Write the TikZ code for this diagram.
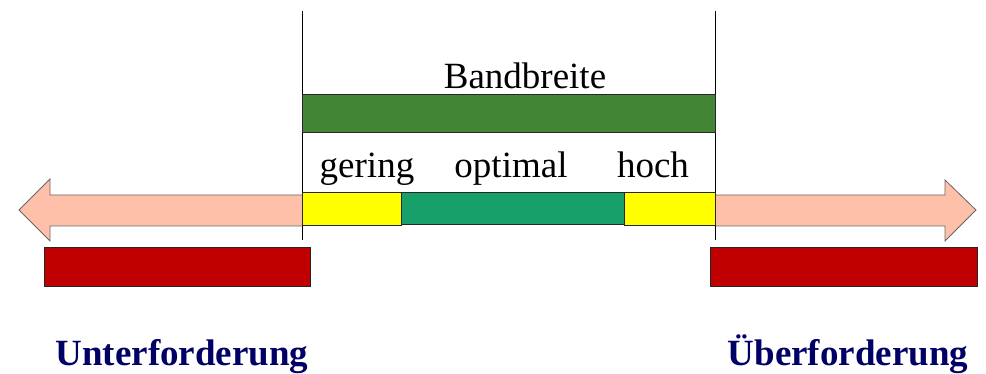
\documentclass[tikz,border=0pt]{standalone}
\usepackage{fontspec}
\setmainfont{Liberation Serif}
\begin{document}
\begin{tikzpicture}[x=1pt,y=1pt,
  lbl/.style={anchor=base,inner sep=0pt,font=\fontsize{37}{44}\selectfont},
  side/.style={anchor=base,inner sep=0pt,font=\fontsize{37}{44}\selectfont\bfseries,text=navy},
  barbox/.style={draw=black!85,line width=0.8pt,inner sep=0pt,anchor=south west},
  arrowbody/.style={fill=salmon,draw=gray!80!black,line width=0.8pt,line join=miter}]
\definecolor{navy}{HTML}{000066}
\definecolor{salmon}{HTML}{FFC0AA}
\definecolor{bandgreen}{HTML}{418535}
\definecolor{optgreen}{HTML}{17A06A}
\definecolor{lowhigh}{HTML}{FFFF00}
\definecolor{overred}{HTML}{C00000}
\useasboundingbox (0,0) rectangle (986,374);

% left arrow (Unterforderung side)
\coordinate (lA) at (302,179);
\draw[arrowbody] (302,179) -- (50,179) -- (50,195) -- (19,164) -- (50,133) -- (50,148) -- (302,148);
% right arrow (Ueberforderung side)
\draw[arrowbody] (715,179) -- (945,179) -- (945,194) -- (976,164) -- (945,133) -- (945,148) -- (715,148);

% range boundaries
\coordinate (tl) at (302,363);
\coordinate (bl) at (302,134);
\coordinate (tr) at (715,363);
\coordinate (br) at (715,134);
\draw[line width=0.9pt] (tl) -- (bl);
\draw[line width=0.9pt] (tr) -- (br);

% bandwidth bar
\node[barbox,fill=bandgreen,minimum width=413pt,minimum height=38pt] (band) at (302,241) {};
\node[lbl] (bandtxt) at (525,285) {Bandbreite};

% levels within the band
\node[barbox,fill=lowhigh,minimum width=99pt,minimum height=33pt] (low) at (302,148) {};
\node[barbox,fill=optgreen,minimum width=223pt,minimum height=32pt] (opt) at (401,149) {};
\node[barbox,fill=lowhigh,minimum width=91pt,minimum height=33pt] (high) at (624,148) {};
\node[lbl] (lowtxt) at (367,196) {gering};
\node[lbl] (opttxt) at (511,196) {optimal};
\node[lbl] (hightxt) at (653,196) {hoch};

% out-of-range bars
\node[barbox,fill=overred,minimum width=266pt,minimum height=39pt] (under) at (44,87) {};
\node[barbox,fill=overred,minimum width=267pt,minimum height=39pt] (over) at (710,87) {};
\node[side] (undertxt) at (182,8) {Unterforderung};
\node[side] (overtxt) at (848,8) {Überforderung};
\end{tikzpicture}
\end{document}
